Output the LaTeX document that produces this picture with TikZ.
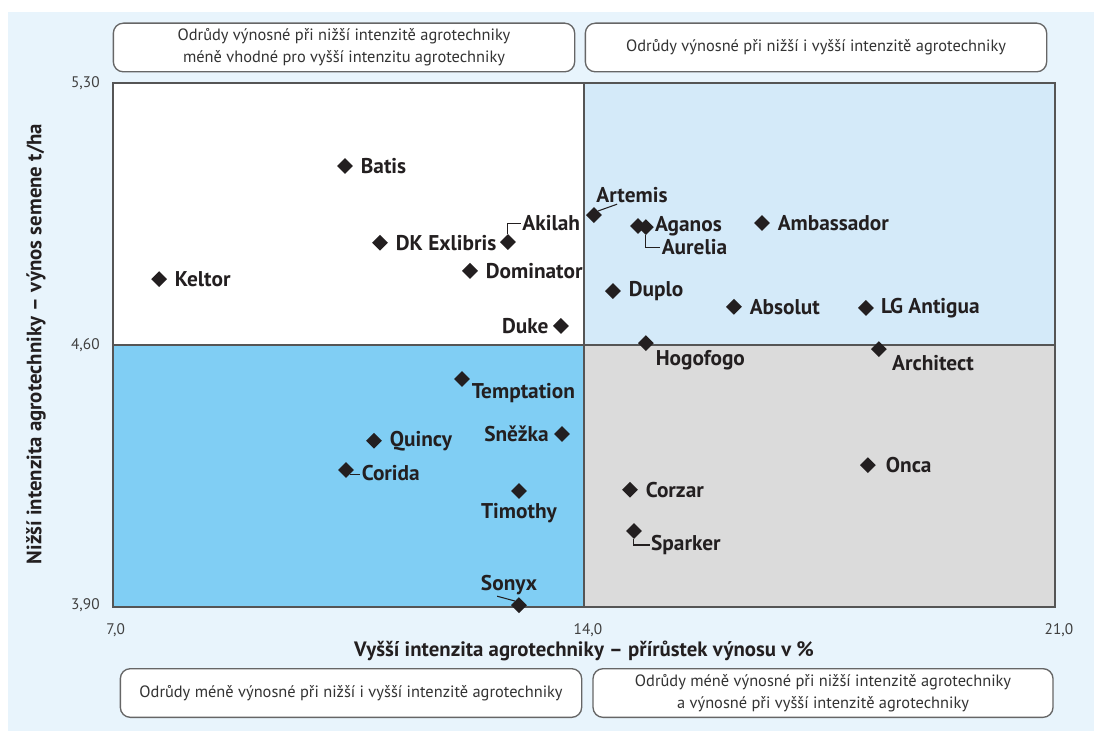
\documentclass[tikz,border=0pt]{standalone}
\usepackage{fontspec}
\setmainfont{PT Sans}
\usetikzlibrary{shapes.geometric, positioning, calc}

\definecolor{bgblue}{HTML}{E8F4FC}
\definecolor{paleblue}{HTML}{D4EAF9}
\definecolor{skyblue}{HTML}{80CEF4}
\definecolor{lightgrey}{HTML}{DBDBDB}
\definecolor{framegrey}{HTML}{555555}
\definecolor{inkblack}{HTML}{231F20}

\begin{document}
\begin{tikzpicture}[x=0.75pt, y=-0.75pt]
    % --- Style Definitions ---
    \tikzset{
        frame line/.style={
            draw=framegrey,
            line width=1.3pt
        },
        note box/.style={
            draw=framegrey!90,
            line width=1pt,
            fill=white,
            rounded corners=7.5pt,
            minimum width=346pt,
            minimum height=36.5pt,
            align=center,
            font=\fontsize{12.3}{16.4}\selectfont,
            text=black!80
        },
        point style/.style={
            diamond,
            fill=inkblack,
            inner sep=0pt,
            minimum size=12pt
        },
        label text/.style={
            font=\fontsize{16}{19}\selectfont\bfseries,
            text=inkblack,
            inner sep=1pt
        },
        tick text/.style={
            font=\fontsize{11.5}{13}\selectfont,
            text=black!75
        },
        axis text/.style={
            font=\fontsize{15.6}{18}\selectfont\bfseries,
            text=inkblack
        },
        leader/.style={
            draw=inkblack,
            line width=0.8pt
        }
    }

    % --- 1. Background ---
    \useasboundingbox (0,0) rectangle (1094,731);
    \fill[white] (0,0) rectangle (1094,731);
    \fill[bgblue] (8,12) rectangle (1094,731);

    % --- 2. Quadrant Boxes ---
    \node[note box] (topleft) at (344,47.5)
        {Odrůdy výnosné při nižší intenzitě agrotechniky\\méně vhodné pro vyšší intenzitu agrotechniky};
    \node[note box] (topright) at (816,47.5)
        {Odrůdy výnosné při nižší i vyšší intenzitě agrotechniky};
    \node[note box] (bottomleft) at (351,693)
        {Odrůdy méně výnosné při nižší i vyšší intenzitě agrotechniky};
    \node[note box, minimum width=345pt] (bottomright) at (823,693)
        {Odrůdy méně výnosné při nižší intenzitě agrotechniky\\a výnosné při vyšší intenzitě agrotechniky};

    % --- 3. Axis Titles ---
    \node[axis text] (xtitle) at (584,651) {Vyšší intenzita agrotechniky – přírůstek výnosu v \%};
    \node[axis text, rotate=90] (ytitle) at (36,344) {Nižší intenzita agrotechniky – výnos semene t/ha};

    % --- 4. Plot (data coordinates) ---
    \begin{scope}[shift={(113,607)}, x=50.46pt, y=280.72pt, shift={(-7,-3.9)}]
        % quadrants
        \fill[white] (7,4.6) rectangle (14,5.3);
        \fill[paleblue] (14,4.6) rectangle (21,5.3);
        \fill[skyblue] (7,3.9) rectangle (14,4.6);
        \fill[lightgrey] (14,3.9) rectangle (21,4.6);
        \draw[frame line] (7,3.9) rectangle (21,5.3);
        \draw[frame line] (14,3.9) -- (14,5.3);
        \draw[frame line] (7,4.6) -- (21,4.6);

        % ticks
        \node[tick text, anchor=east, xshift=-6.5pt] (tick-530) at (7,5.3) {5,30};
        \node[tick text, anchor=east, xshift=-6.5pt] (tick-460) at (7,4.6) {4,60};
        \node[tick text, anchor=east, xshift=-6.5pt, yshift=1.5pt] (tick-390) at (7,3.9) {3,90};
        \node[tick text, anchor=north, yshift=-9pt, xshift=2pt] (tick-7) at (7,3.9) {7,0};
        \node[tick text, anchor=north, yshift=-9pt, xshift=3pt] (tick-14) at (14,3.9) {14,0};
        \node[tick text, anchor=north, yshift=-9pt, xshift=3pt] (tick-21) at (21,3.9) {21,0};

        % --- 5. Varieties ---
        \node[point style] (keltor) at (7.684,4.776) {};
        \node[point style] (batis) at (10.448,5.078) {};
        \node[point style] (dkexlibris) at (10.968,4.873) {};
        \node[point style] (akilah) at (12.870,4.875) {};
        \node[point style] (dominator) at (12.306,4.798) {};
        \node[point style] (duke) at (13.658,4.651) {};
        \node[point style] (artemis) at (14.149,4.947) {};
        \node[point style] (aganos) at (14.803,4.918) {};
        \node[point style] (aurelia) at (14.921,4.915) {};
        \node[point style] (ambassador) at (16.645,4.926) {};
        \node[point style] (duplo) at (14.431,4.744) {};
        \node[point style] (absolut) at (16.229,4.702) {};
        \node[point style] (lgantigua) at (18.191,4.699) {};
        \node[point style] (hogofogo) at (14.921,4.605) {};
        \node[point style] (architect) at (18.384,4.589) {};
        \node[point style] (temptation) at (12.187,4.509) {};
        \node[point style] (quincy) at (10.879,4.344) {};
        \node[point style] (snezka) at (13.673,4.362) {};
        \node[point style] (corida) at (10.463,4.266) {};
        \node[point style] (onca) at (18.221,4.279) {};
        \node[point style] (corzar) at (14.684,4.213) {};
        \node[point style] (timothy) at (13.034,4.210) {};
        \node[point style] (sparker) at (14.743,4.103) {};
        \node[point style] (sonyx) at (13.034,3.905) {};

        % labels
        \node[label text, right=4.5pt of keltor] (keltor-l) {Keltor};
        \node[label text, right=4.5pt of batis] (batis-l) {Batis};
        \node[label text, right=4.5pt of dkexlibris] (dkexlibris-l) {DK Exlibris};
        \node[label text, right=3.5pt of akilah, yshift=14pt] (akilah-l) {Akilah};
        \node[label text, right=4.5pt of dominator] (dominator-l) {Dominator};
        \node[label text, left=2pt of duke] (duke-l) {Duke};
        \node[label text, above=2pt of artemis, xshift=28.5pt] (artemis-l) {Artemis};
        \node[label text, right=5.5pt of aganos] (aganos-l) {Aganos};
        \node[label text, right=4.5pt of aurelia, yshift=-15pt] (aurelia-l) {Aurelia};
        \node[label text, right=4.5pt of ambassador] (ambassador-l) {Ambassador};
        \node[label text, right=4.5pt of duplo] (duplo-l) {Duplo};
        \node[label text, right=4.5pt of absolut] (absolut-l) {Absolut};
        \node[label text, right=4pt of lgantigua] (lgantigua-l) {LG Antigua};
        \node[label text, right=0pt of hogofogo, yshift=-12.75pt] (hogofogo-l) {Hogofogo};
        \node[label text, right=2.5pt of architect, yshift=-10.5pt] (architect-l) {Architect};
        \node[label text, right=0pt of temptation, yshift=-10.5pt] (temptation-l) {Temptation};
        \node[label text, right=4.5pt of quincy] (quincy-l) {Quincy};
        \node[label text, left=2.5pt of snezka] (snezka-l) {Sněžka};
        \node[label text, right=4.5pt of corida, yshift=-2pt] (corida-l) {Corida};
        \node[label text, right=6pt of onca] (onca-l) {Onca};
        \node[label text, right=4.5pt of corzar] (corzar-l) {Corzar};
        \node[label text, below=2pt of timothy] (timothy-l) {Timothy};
        \node[label text, right=5.5pt of sparker, yshift=-10.5pt] (sparker-l) {Sparker};
        \node[label text, above=0.5pt of sonyx, xshift=-7.5pt] (sonyx-l) {Sonyx};

        % leader lines
        \draw[leader] (akilah.north) |- (akilah-l.west);
        \draw[leader] (artemis.north east) -- ($(artemis-l.south west)!0.3!(artemis-l.south east)$);
        \draw[leader] (aurelia.south) |- (aurelia-l.west);
        \draw[leader] (sparker.south) |- (sparker-l.west);
        \draw[leader] (corida.south east) -- (corida-l.west |- corida.south east);
        \draw[leader] ($(sonyx-l.south west)!0.3!(sonyx-l.south east)$) -- (sonyx.north west);
    \end{scope}

\end{tikzpicture}
\end{document}
